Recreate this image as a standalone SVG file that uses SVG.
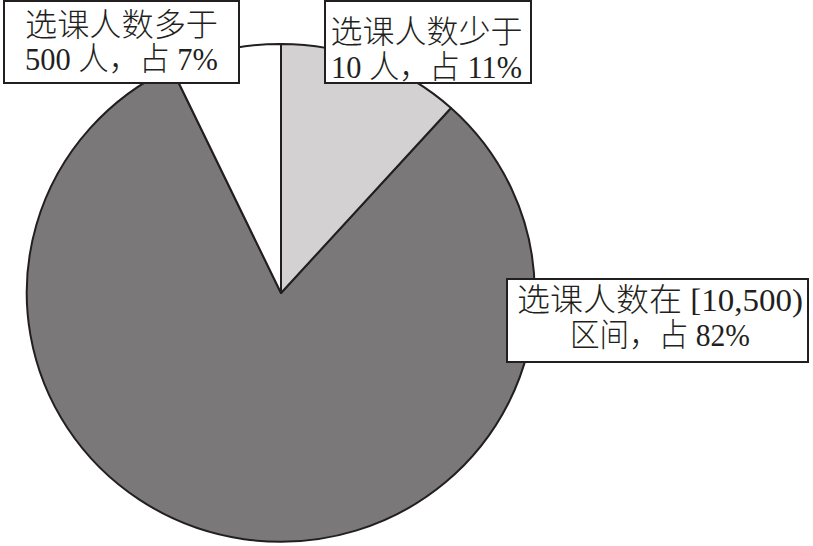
<svg xmlns="http://www.w3.org/2000/svg" width="813" height="546" viewBox="0 0 813 546">
<style>
.s{stroke:#231f20;stroke-width:2;stroke-linejoin:round}
.box{fill:#fff;stroke:#231f20;stroke-width:2}
.t{font-family:"Liberation Serif","Noto Sans CJK SC",serif;font-size:32px;font-weight:300;fill:#231f20;text-anchor:middle}
</style>
<rect width="813" height="546" fill="#fff"/>
<g id="pie">
<path id="slice-82" class="s" fill="#7a7879" d="M281,293 L451,108 A254,249 0 1,1 171.5,68 Z"/>
<path id="slice-11" class="s" fill="#d3d1d2" d="M281,293 L281,44 A254,249 0 0,1 451,108 Z"/>
<path id="slice-7" class="s" fill="#fff" d="M281,293 L171.5,68 A254,249 0 0,1 281,44 Z"/>
</g>
<g id="label-7">
<rect class="box" x="4" y="1" width="235" height="82"/>
<text class="t" x="121.5" y="36" textLength="193" lengthAdjust="spacingAndGlyphs">选课人数多于</text>
<text class="t" x="121.5" y="70" textLength="193" lengthAdjust="spacingAndGlyphs">500 人，占 7%</text>
</g>
<g id="label-11">
<rect class="box" x="325" y="1" width="206" height="82"/>
<text class="t" x="426.5" y="43" textLength="192" lengthAdjust="spacingAndGlyphs">选课人数少于</text>
<text class="t" x="426.5" y="78" textLength="191" lengthAdjust="spacingAndGlyphs">10 人，占 11%</text>
</g>
<g id="label-82">
<rect class="box" x="507" y="279" width="301" height="83"/>
<text class="t" x="660" y="311" textLength="286" lengthAdjust="spacingAndGlyphs">选课人数在 [10,500)</text>
<text class="t" x="660" y="346" textLength="180" lengthAdjust="spacingAndGlyphs">区间，占 82%</text>
</g>
</svg>
